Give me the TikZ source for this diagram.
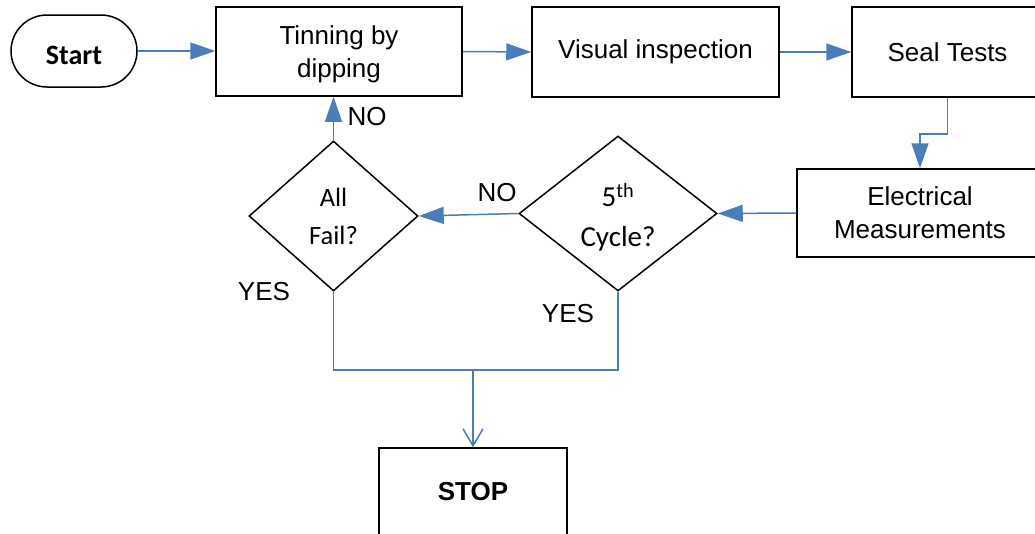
\documentclass[tikz,border=0pt]{standalone}
\usepackage{fontspec}
\setmainfont{Liberation Sans}
\newfontfamily\calibri{Carlito}
\usetikzlibrary{arrows.meta,shapes.geometric,shapes.misc}
\definecolor{lineblue}{RGB}{74,126,187}

\begin{document}
\begin{tikzpicture}[x=1pt,y=-1pt]
	\tikzset{
		mynode/.style={rectangle, draw=black, line width=1.5pt, inner sep=0pt, align=center, font=\fontsize{26}{33}\selectfont},
		mystart/.style={rounded rectangle, draw=black, line width=1.5pt, inner sep=0pt, minimum width=126pt, minimum height=72pt, font=\calibri\bfseries\fontsize{28}{33}\selectfont},
		mydiamond/.style={diamond, draw=black, line width=1.5pt, inner sep=0pt, align=center, font=\calibri\fontsize{26.5}{38}\selectfont},
		myarrow/.style={-{Triangle[length=25pt,width=17pt]}, draw=lineblue, line width=1.5pt},
		myline/.style={draw=lineblue, line width=1.5pt},
		myopen/.style={-{Straight Barb[length=17pt,width=20pt]}, draw=lineblue, line width=1.5pt},
		mylabel/.style={inner sep=0pt, font=\fontsize{26}{30}\selectfont}
	}

	\useasboundingbox (0,0) rectangle (1035,533);
	\clip (0,0) rectangle (1035,533);

	% boxes in the top row
	\node[mystart, text height=27pt] (start) at (74,51) {Start};
	\node[mynode, minimum width=246pt, minimum height=89pt] (tinning) at (339,51.5) {\rule{0pt}{24pt}Tinning by\\dipping};
	\node[mynode, minimum width=247pt, minimum height=90pt] (visual) at (655.5,52) {Visual inspection};
	\node[mynode, minimum width=191pt, minimum height=90pt] (seal) at (947.5,52) {Seal Tests};

	% measurement and the two decisions
	\node[mynode, minimum width=246pt, minimum height=88pt] (elec) at (920,213) {Electrical\\Measurements};
	\node[mydiamond, font=\calibri\fontsize{29}{40}\selectfont, minimum width=198pt, minimum height=155pt] (fifth) at (618,213.5) {\rule{0pt}{30pt}5\textsuperscript{th}\\Cycle?};
	\node[mydiamond, minimum width=169pt, minimum height=150pt] (allfail) at (333.5,216) {All\\Fail?};

	\node[mynode, font=\bfseries\fontsize{26}{33}\selectfont, minimum width=188pt, minimum height=87pt] (stop) at (473,491.5) {STOP};

	% labels
	\node[mylabel] (noup) at (367,117) {NO};
	\node[mylabel] (noleft) at (497,193) {NO};
	\node[mylabel] (yesleft) at (264,292) {YES};
	\node[mylabel] (yesright) at (568,314) {YES};

	% connectors
	\draw[myarrow] (start.east) -- (start.east -| tinning.west);
	\draw[myarrow] (tinning.east) -- (visual.west);
	\draw[myarrow] (visual.east) -- (seal.west);
	\draw[myarrow] (seal.south) -- ++(0,36) -| (elec.north);
	\draw[myarrow] (elec.west) -- (fifth.east);
	\draw[myarrow] (fifth.west) -- (allfail.east);
	\draw[myarrow] (allfail.north) -- (allfail.north |- tinning.south);

	\coordinate (join) at (473,370);
	\draw[myline] (allfail.south) |- (join) -| (fifth.south);
	\draw[myopen] (join) -- (stop.north);
\end{tikzpicture}
\end{document}
